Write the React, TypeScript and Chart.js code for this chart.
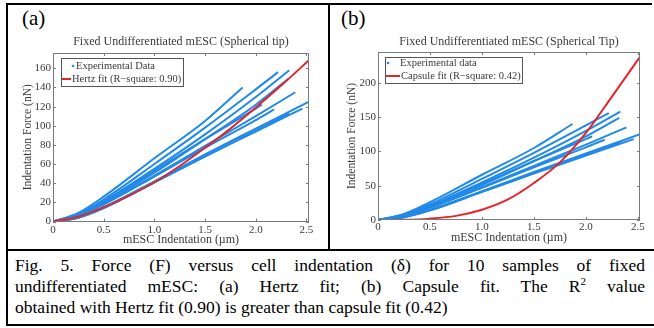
import React, { useEffect, useRef } from "react";
import { Chart, registerables } from "chart.js";

Chart.register(...registerables);

const FONT = "'Liberation Serif', 'Times New Roman', Times, serif";
const BLUE = "#2189e8";
const RED = "#e3262c";
const AXIS = "#7a7a7a";
const TEXT = "#3a3a3a";

// Indentation (µm) grid at which the experimental curves were read
const gridX = [0, 0.25, 0.5, 1.0, 1.5, 2.0];
// End point of each of the 10 experimental curves
const endX = [1.87, 2.22, 2.33, 2.32, 2.06, 2.39, 2.18, 2.52, 2.46, 2.33];
const endY = [140, 156, 158, 149, 122, 135, 117, 125, 118, 113];
// Force (nN) of each curve at gridX, up to its end point
const sample1 = [0, 9, 26, 66, 105];
const sample2 = [0, 8, 23, 60, 98, 138];
const sample3 = [0, 7, 21, 55, 91, 130];
const sample4 = [0, 6, 19, 51, 86, 122];
const sample5 = [0, 6, 20, 53, 86, 118];
const sample6 = [0, 6, 18, 48, 79, 110];
const sample7 = [0, 6, 18, 47, 77, 106];
const sample8 = [0, 5, 15, 42, 70, 97];
const sample9 = [0, 4, 14, 41, 68, 94];
const sample10 = [0, 4, 14, 41, 68, 95];
const samples = [sample1, sample2, sample3, sample4, sample5, sample6, sample7, sample8, sample9, sample10];

// Hertz fit (panel a)
const hertzX = [0, 0.25, 0.5, 0.75, 1.0, 1.25, 1.5, 1.75, 2.0, 2.25, 2.53];
const hertzY = [0, 5, 15, 27, 41, 58, 77, 97, 119, 142, 169];
// Capsule fit (panel b)
const capsuleX = [0, 0.25, 0.5, 0.75, 1.0, 1.25, 1.5, 1.75, 2.0, 2.25, 2.52];
const capsuleY = [0, 0.3, 2, 6, 15, 30, 54, 84, 127, 180, 238];

const xTicks = [0, 0.5, 1.0, 1.5, 2.0, 2.5];
const yTicksA = [0, 20, 40, 60, 80, 100, 120, 140, 160];
const yTicksB = [0, 50, 100, 150, 200];

const sampleSeries = () =>
  samples.map((s, i) => {
    const pts = s.map((y, j) => ({ x: gridX[j], y }));
    pts.push({ x: endX[i], y: endY[i] });
    return pts;
  });

const framePlugin = {
  id: "frameLegend",
  afterDraw(chart: any, _a: any, opts: any) {
    const { ctx, chartArea: a, scales } = chart;
    ctx.save();
    ctx.strokeStyle = AXIS;
    ctx.lineWidth = 1;
    ctx.strokeRect(Math.round(a.left) + 0.5, Math.round(a.top) + 0.5, Math.round(a.right - a.left) - 1, Math.round(a.bottom - a.top) - 1);
    const L = 3;
    ctx.beginPath();
    scales.x.ticks.forEach((t: any) => {
      const px = Math.round(scales.x.getPixelForValue(t.value)) + 0.5;
      ctx.moveTo(px, a.bottom);
      ctx.lineTo(px, a.bottom - L);
      ctx.moveTo(px, a.top);
      ctx.lineTo(px, a.top + L);
    });
    scales.y.ticks.forEach((t: any) => {
      const py = Math.round(scales.y.getPixelForValue(t.value)) + 0.5;
      ctx.moveTo(a.left, py);
      ctx.lineTo(a.left + L, py);
      ctx.moveTo(a.right, py);
      ctx.lineTo(a.right - L, py);
    });
    ctx.stroke();

    // legend box
    const bx = Math.round(a.left + opts.x);
    const by = Math.round(a.top + opts.y);
    ctx.fillStyle = "#fff";
    ctx.fillRect(bx, by, opts.w, opts.h);
    ctx.strokeStyle = "#555";
    ctx.lineWidth = 1;
    ctx.strokeRect(bx + 0.5, by + 0.5, opts.w, opts.h);
    ctx.fillStyle = BLUE;
    ctx.beginPath();
    ctx.arc(bx + opts.dotX, by + opts.row1, 1.3, 0, Math.PI * 2);
    ctx.fill();
    ctx.strokeStyle = RED;
    ctx.lineWidth = 2;
    ctx.beginPath();
    ctx.moveTo(bx + opts.lineX0, by + opts.row2);
    ctx.lineTo(bx + opts.lineX1, by + opts.row2);
    ctx.stroke();
    ctx.font = `10.5px ${FONT}`;
    ctx.fillStyle = TEXT;
    ctx.textBaseline = "middle";
    ctx.textAlign = "left";
    const ds = chart.data.datasets;
    ctx.fillText(ds[1].label, bx + opts.text1X, by + opts.row1);
    ctx.fillText(ds[0].label, bx + opts.text2X, by + opts.row2);
    ctx.restore();
  },
};

type Spec = {
  title: string;
  expLabel: string;
  fitLabel: string;
  fitX: number[];
  fitY: number[];
  xMax: number;
  yMax: number;
  yTicks: number[];
  width: number;
  height: number;
  padRight: number;
  yAxisWidth: number;
  xAxisHeight: number;
  titlePad: { top: number; bottom: number };
  xTickPad: number;
  xTitlePad: number;
  yTitlePad: number;
  legend: any;
};

function PanelChart({ spec, style }: { spec: Spec; style: React.CSSProperties }) {
  const ref = useRef<HTMLCanvasElement>(null);
  useEffect(() => {
    if (!ref.current) return;
    const series = sampleSeries();
    const datasets: any[] = [
      {
        label: spec.fitLabel,
        data: spec.fitX.map((x, i) => ({ x, y: spec.fitY[i] })),
        borderColor: RED,
        borderWidth: 2,
        order: 0,
      },
      ...series.map((pts, i) => ({
        label: i === 0 ? spec.expLabel : "",
        data: pts,
        borderColor: BLUE,
        borderWidth: 2,
        order: 1,
      })),
    ];
    const chart = new Chart(ref.current, {
      type: "scatter",
      data: {
        datasets: datasets.map((d) => ({
          ...d,
          showLine: true,
          pointRadius: 0,
          tension: 0.4,
          cubicInterpolationMode: "monotone",
          fill: false,
        })),
      },
      options: {
        responsive: false,
        animation: false,
        devicePixelRatio: 1,
        layout: { padding: { left: 0, right: spec.padRight, top: 0, bottom: 0 } },
        plugins: {
          legend: { display: false },
          tooltip: { enabled: false },
          title: {
            display: true,
            text: spec.title,
            fullSize: false,
            color: TEXT,
            font: { family: FONT, size: 12, weight: "normal" },
            padding: spec.titlePad,
          },
          frameLegend: spec.legend,
        } as any,
        scales: {
          x: {
            type: "linear",
            min: 0,
            max: spec.xMax,
            grid: { display: false, drawTicks: false },
            border: { display: false },
            afterBuildTicks: (s: any) => {
              s.ticks = xTicks.map((v) => ({ value: v }));
            },
            afterFit: (s: any) => {
              s.height = spec.xAxisHeight;
            },
            ticks: {
              padding: spec.xTickPad,
              color: TEXT,
              font: { family: FONT, size: 11 },
              maxRotation: 0,
              callback: (v: any) => (v === 0 ? "0" : Number(v).toFixed(1)),
            },
            title: {
              display: true,
              text: "mESC Indentation (\u00b5m)",
              color: TEXT,
              font: { family: FONT, size: 12 },
              padding: { top: 0, bottom: spec.xTitlePad },
            },
          },
          y: {
            type: "linear",
            min: 0,
            max: spec.yMax,
            grid: { display: false, drawTicks: false },
            border: { display: false },
            afterBuildTicks: (s: any) => {
              s.ticks = spec.yTicks.map((v) => ({ value: v }));
            },
            afterFit: (s: any) => {
              s.width = spec.yAxisWidth;
            },
            ticks: {
              padding: 2,
              color: TEXT,
              font: { family: FONT, size: 11 },
              callback: (v: any) => String(v),
            },
            title: {
              display: true,
              text: "Indentation Force (nN)",
              color: TEXT,
              font: { family: FONT, size: 11.5 },
              padding: { top: spec.yTitlePad, bottom: 0 },
            },
          },
        },
      } as any,
      plugins: [framePlugin],
    });
    return () => chart.destroy();
  }, []);
  return <canvas ref={ref} width={spec.width} height={spec.height} style={{ position: "absolute", ...style }} />;
}

const specA: Spec = {
  title: "Fixed Undifferentiated mESC (Spherical tip)",
  expLabel: "Experimental Data",
  fitLabel: "Hertz fit (R\u2212square: 0.90)",
  fitX: hertzX,
  fitY: hertzY,
  xMax: 2.525,
  yMax: 176,
  yTicks: yTicksA,
  width: 318,
  height: 218,
  padRight: 18,
  yAxisWidth: 44,
  xAxisHeight: 26.5,
  titlePad: { top: 5, bottom: 3.6 },
  xTickPad: 2,
  xTitlePad: 0.8,
  yTitlePad: 12,
  legend: { x: 8, y: 5, w: 122, h: 28, dotX: 12, row1: 8, row2: 21, lineX0: 1, lineX1: 10, text1X: 15, text2X: 11 },
};

const specB: Spec = {
  title: "Fixed Undifferentiated mESC (Spherical Tip)",
  expLabel: "Experimental data",
  fitLabel: "Capsule fit (R\u2212square: 0.42)",
  fitX: capsuleX,
  fitY: capsuleY,
  xMax: 2.52,
  yMax: 245,
  yTicks: yTicksB,
  width: 321,
  height: 218,
  padRight: 12,
  yAxisWidth: 47,
  xAxisHeight: 28,
  titlePad: { top: 4.5, bottom: 3.1 },
  xTickPad: 1,
  xTitlePad: 2.5,
  yTitlePad: 13.8,
  legend: { x: 7, y: 5, w: 137, h: 26, dotX: 3, row1: 6, row2: 19, lineX0: 1, lineX1: 15, text1X: 15, text2X: 16 },
};

export default function App() {
  const serif: React.CSSProperties = { fontFamily: FONT, color: "#000" };
  const lineStyle: React.CSSProperties = {
    position: "absolute",
    left: 15,
    width: 630,
    fontSize: 17.5,
    lineHeight: "21px",
    whiteSpace: "nowrap",
  };
  return (
    <div style={{ position: "fixed", left: 0, top: 0, width: 654, height: 328, background: "#fff", overflow: "hidden", ...serif }}>
      <PanelChart spec={specA} style={{ left: 9, top: 30 }} />
      <PanelChart spec={specB} style={{ left: 331, top: 30 }} />
      <div style={{ position: "absolute", left: 22, top: 8, fontSize: 21, lineHeight: "21px" }}>(a)</div>
      <div style={{ position: "absolute", left: 341, top: 8, fontSize: 21, lineHeight: "21px" }}>(b)</div>
      {/* frame lines */}
      <div style={{ position: "absolute", left: 6, top: 3, width: 646, height: 2, background: "#000" }} />
      <div style={{ position: "absolute", left: 6, top: 3, width: 2, height: 323, background: "#000" }} />
      <div style={{ position: "absolute", left: 328, top: 3, width: 2, height: 248, background: "#000" }} />
      <div style={{ position: "absolute", left: 6, top: 249, width: 648, height: 2, background: "#000" }} />
      <div style={{ position: "absolute", left: 6, top: 324, width: 648, height: 2, background: "#000" }} />
      <div style={{ ...lineStyle, top: 255, textAlign: "justify", textAlignLast: "justify" as any }}>
        Fig. 5. Force (F) versus cell indentation (&delta;) for 10 samples of fixed
      </div>
      <div style={{ ...lineStyle, top: 276, textAlign: "justify", textAlignLast: "justify" as any }}>
        undifferentiated mESC: (a) Hertz fit; (b) Capsule fit. The R
        <span style={{ fontSize: 11, verticalAlign: "7px", lineHeight: 0 }}>2</span> value
      </div>
      <div style={{ ...lineStyle, top: 297 }}>
        obtained with Hertz fit (0.90) is greater than capsule fit (0.42)
      </div>
    </div>
  );
}
